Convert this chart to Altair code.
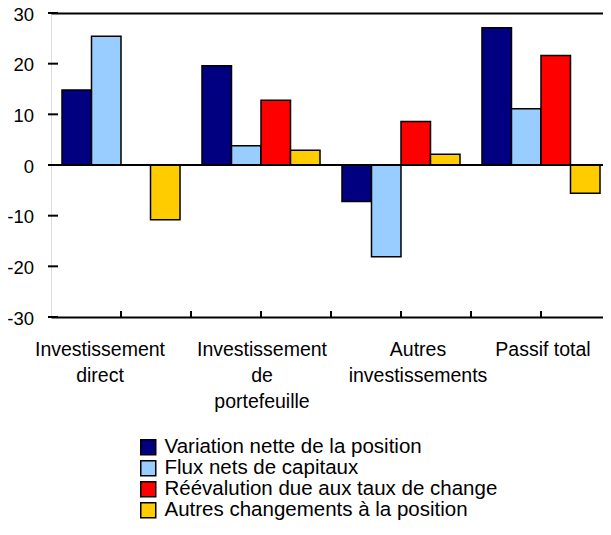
import altair as alt
import pandas as pd

categories = ["Investissement direct", "Investissement de portefeuille",
              "Autres investissements", "Passif total"]
category_labels = ["Investissement|direct", "Investissement|de|portefeuille",
                   "Autres|investissements", "Passif total"]
series = ["Variation nette de la position", "Flux nets de capitaux",
          "Réévalution due aux taux de change", "Autres changements à la position"]
colors = ["#000080", "#99CCFF", "#FF0000", "#FFCC00"]

variation = [14.8, 19.6, -7.2, 27.1]
flux = [25.4, 3.8, -18.1, 11.1]
reevaluation = [None, 12.8, 8.6, 21.6]
autres = [-10.8, 2.9, 2.1, -5.6]

y_ticks = [-30, -20, -10, 0, 10, 20, 30]
label_shift = [-21, 1, 17, 2]

W, H = 560, 304
TOP = 5
FONT = "Liberation Sans"

rows = []
for s, vals in zip(series, [variation, flux, reevaluation, autres]):
    for c, v in zip(categories, vals):
        rows.append({"cat": c, "series": s, "value": v})
df = pd.DataFrame(rows)
cat_df = pd.DataFrame({"cat": categories})
ytick_df = pd.DataFrame({"v": y_ticks, "t": [str(v) for v in y_ticks]})

xscale = alt.Scale(domain=categories, paddingInner=0.157, paddingOuter=0.0786)
yscale = alt.Scale(domain=[-30, 30], nice=False)

bars = alt.Chart(df).mark_bar(stroke="black", strokeWidth=1.5).encode(
    x=alt.X("cat:N", scale=xscale, title=None,
            axis=alt.Axis(labels=False, ticks=False, title=None,
                          domainColor="black", domainWidth=2)),
    xOffset=alt.XOffset("series:N", scale=alt.Scale(domain=series)),
    y=alt.Y("value:Q", scale=yscale, title=None,
            axis=alt.Axis(values=y_ticks, ticks=False, labels=False,
                          title=None, domainColor="black", domainWidth=2, grid=False)),
    color=alt.Color("series:N", scale=alt.Scale(domain=series, range=colors),
                    legend=alt.Legend(title=None, orient="none", legendX=87, legendY=424,
                                      symbolType="square", symbolSize=225,
                                      symbolStrokeColor="black", symbolStrokeWidth=1.5,
                                      symbolOpacity=1, labelFontSize=20.5,
                                      labelColor="black", labelFont=FONT,
                                      labelOffset=6, rowPadding=-1, padding=0,
                                      labelLimit=600)),
)

zero = alt.Chart(pd.DataFrame({"v": [0]})).mark_rule(color="black", strokeWidth=2).encode(
    y=alt.Y("v:Q", scale=yscale, axis=None)
)

center_ticks = alt.Chart(cat_df).mark_rule(color="black", strokeWidth=2).encode(
    x=alt.X("cat:N", scale=xscale, title=None,
            axis=alt.Axis(orient="top", labels=False, ticks=False, title=None,
                          domainColor="black", domainWidth=2)),
    y=alt.value(H), y2=alt.value(H - 6),
)

bound_ticks = alt.Chart(cat_df.iloc[1:]).mark_rule(color="black", strokeWidth=2, xOffset=-70).encode(
    x=alt.X("cat:N", scale=xscale, axis=None),
    y=alt.value(H), y2=alt.value(H - 6),
)

y_tick_marks = alt.Chart(ytick_df).mark_rule(color="black", strokeWidth=2).encode(
    y=alt.Y("v:Q", scale=yscale, axis=None),
    x=alt.value(-3), x2=alt.value(7),
)

y_tick_labels = alt.Chart(ytick_df).mark_text(
    align="right", baseline="middle", fontSize=18.5, dy=1.5, color="black", font=FONT
).encode(
    y=alt.Y("v:Q", scale=yscale, axis=None),
    x=alt.value(-17),
    text="t:N",
)

label_layers = []
for c, lab, sh in zip(categories, category_labels, label_shift):
    label_layers.append(
        alt.Chart(pd.DataFrame({"cat": [c], "label": [lab]})).mark_text(
            lineBreak="|", fontSize=19.5, dx=sh, baseline="alphabetic", align="center",
            lineHeight=26, color="black", font=FONT,
        ).encode(
            x=alt.X("cat:N", scale=xscale, axis=None),
            y=alt.value(H + 39),
            text="label:N",
        )
    )

chart = alt.layer(bars, zero, center_ticks, bound_ticks, y_tick_marks, y_tick_labels,
                  *label_layers).resolve_axis(
    x="independent"
).properties(
    width=W, height=H,
    autosize="none",
    padding={"left": 43, "top": TOP, "right": -8, "bottom": 515 - TOP - H},
).configure_view(stroke=None).configure(font=FONT)

chart.save("out.html", embed_options={"renderer": "svg", "actions": False})
